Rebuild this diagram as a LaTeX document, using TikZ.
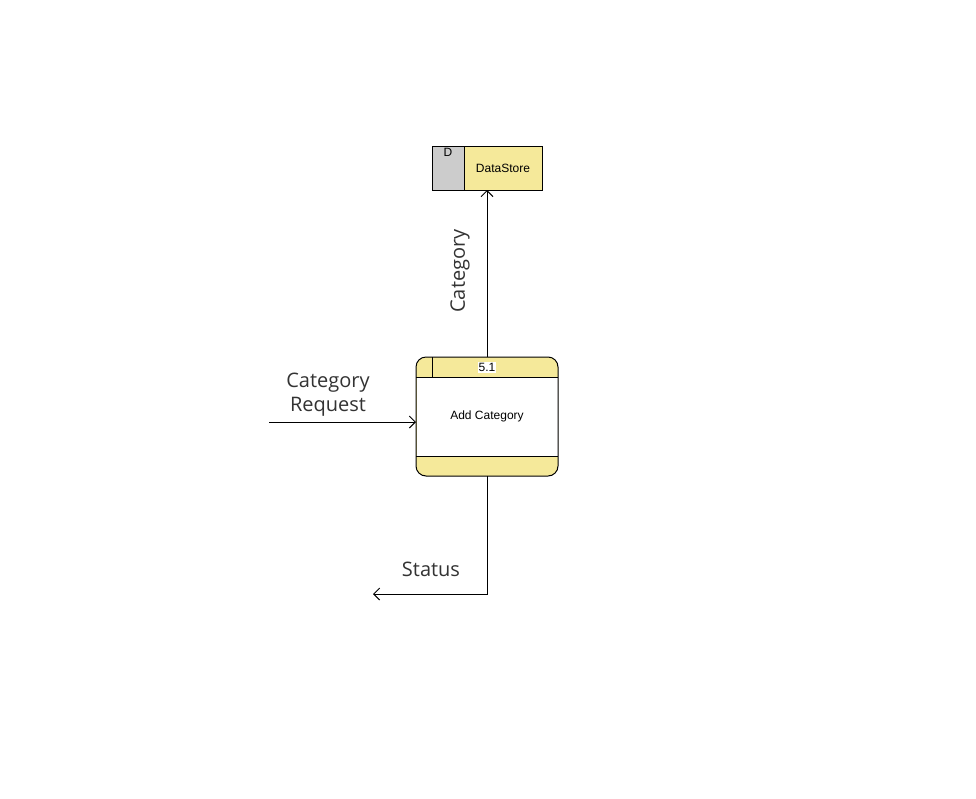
\documentclass[tikz,border=0pt]{standalone}
\usepackage{fontspec}
\setmainfont{Liberation Sans}
\newfontfamily\labelfont{Open Sans}
\usetikzlibrary{arrows.meta}
\definecolor{yel}{HTML}{F5E99A}
\definecolor{gry}{HTML}{CCCCCC}
\definecolor{txt}{HTML}{333333}
\tikzset{
  flow/.style={draw=black, line width=1pt, -{Straight Barb[length=6pt,width=12pt]}},
  lbl/.style={font=\labelfont\fontsize{20}{24}\selectfont, text=txt, align=center, inner sep=0pt},
  small/.style={font=\fontsize{12}{14}\selectfont, inner sep=0pt},
  edge/.style={draw=black, line width=1pt}
}
\begin{document}
\begin{tikzpicture}[x=1pt,y=-1pt]
\useasboundingbox[fill=white] (0,0) rectangle (976,798);
% data store
\fill[gry] (432,146) rectangle (464,190);
\fill[yel] (464,146) rectangle (542,190);
\draw[edge] (432,146) rectangle (542,190);
\draw[edge] (464,146) -- (464,190);
\node[small] (dlab) at (448,152) {D};
\node[small] (ds) at (503,168) {DataStore};
\coordinate (dsb) at (487,190);
% process
\fill[yel, rounded corners=10pt] (416,357) rectangle (558,476);
\fill[white] (416.5,377) rectangle (557.5,456);
\draw[edge, rounded corners=10pt] (416,357) rectangle (558,476);
\draw[edge] (416,377) -- (558,377);
\draw[edge] (416,456) -- (558,456);
\draw[edge] (432,357) -- (432,377);
\node[small, fill=white, inner sep=1pt] (num) at (487,367.5) {5.1};
\node[small] (proc) at (487,416.5) {Add Category};
\coordinate (pt) at (487,357);
\coordinate (pb) at (487,476);
\coordinate (pl) at (416,422);
% flows
\draw[flow] (pt) -- (dsb);
\node[lbl, rotate=90] (lcat) at (460,271) {Category};
\coordinate (inS) at (269,422);
\draw[flow] (inS) -- (pl);
\node[lbl] (lreq) at (328,395) {Category\\Request};
\coordinate (stE) at (373,594);
\draw[flow] (pb) |- (stE);
\node[lbl] (lst) at (431,569) {Status};
\end{tikzpicture}
\end{document}
